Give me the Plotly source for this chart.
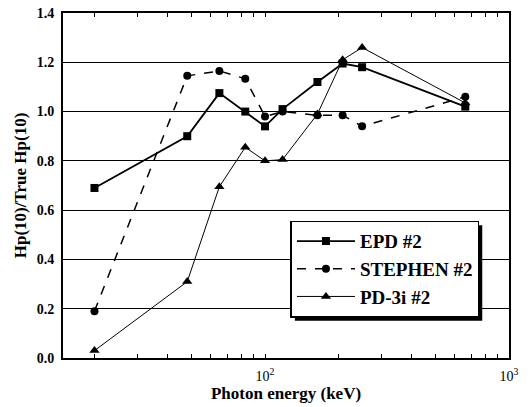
import plotly.graph_objects as go

energy = [20, 48, 65, 83, 100, 118, 164, 208, 250, 662]
epd = [0.69, 0.90, 1.075, 1.00, 0.94, 1.01, 1.12, 1.195, 1.18, 1.02]
stephen = [0.19, 1.145, 1.165, 1.133, 0.98, 1.00, 0.985, 0.985, 0.94, 1.06]
pd3i = [0.03, 0.31, 0.695, 0.855, 0.80, 0.805, 0.99, 1.21, 1.26, 1.035]

names = ["<b>EPD #2</b>", "<b>STEPHEN #2</b>", "<b>PD-3i #2</b>"]
ytick_vals = [0.0, 0.2, 0.4, 0.6, 0.8, 1.0, 1.2, 1.4]
xtick_vals = [20, 30, 40, 50, 60, 70, 80, 90, 100, 200, 300, 400, 500, 600, 700, 800, 900, 1000]
xtick_text = ["10<sup>2</sup>" if v == 100 else ("10<sup>3</sup>" if v == 1000 else "") for v in xtick_vals]

font_family = "Liberation Serif"

fig = go.Figure()
fig.add_trace(go.Scatter(x=energy, y=epd, name=names[0], mode="lines+markers",
                         line=dict(color="black", width=1.8),
                         marker=dict(symbol="square", size=8, color="black")))
fig.add_trace(go.Scatter(x=energy, y=stephen, name=names[1], mode="lines+markers",
                         line=dict(color="black", width=1.5, dash="dash"),
                         marker=dict(symbol="circle", size=8, color="black")))
fig.add_trace(go.Scatter(x=energy, y=pd3i, name=names[2], mode="lines+markers",
                         line=dict(color="black", width=1),
                         marker=dict(symbol="triangle-up", size=9, color="black")))

# legend drop shadow (decoration)
fig.add_shape(type="rect", xref="paper", yref="paper",
              x0=0.52, x1=0.94, y0=0.108, y1=0.385,
              fillcolor="black", line=dict(width=0), layer="above")

fig.update_layout(
    width=531, height=407,
    margin=dict(l=63, r=22, t=13, b=49),
    paper_bgcolor="white", plot_bgcolor="white",
    font=dict(family=font_family, color="black", size=13),
    showlegend=True,
    legend=dict(x=0.51, y=0.398, xanchor="left", yanchor="top",
                bgcolor="white", bordercolor="black", borderwidth=1.5,
                font=dict(family=font_family, size=19, color="black"),
                itemwidth=58, tracegroupgap=0),
)
fig.update_xaxes(type="log", range=[1.172, 3.0], automargin=False,
                 tickvals=xtick_vals, ticktext=xtick_text,
                 ticks="inside", ticklen=4, tickwidth=1.2, tickcolor="black",
                 showline=True, linecolor="black", linewidth=2, mirror="allticks",
                 showgrid=False, zeroline=False, ticklabelstandoff=4,
                 tickfont=dict(family=font_family, size=14, color="black"),
                 title=dict(text="<b>Photon energy (keV)</b>", standoff=4,
                            font=dict(family=font_family, size=17, color="black")))
fig.update_yaxes(range=[0, 1.4], tickvals=ytick_vals, automargin=False,
                 ticktext=["<b>%.1f</b>" % v for v in ytick_vals],
                 showline=True, linecolor="black", linewidth=2, mirror=True,
                 showgrid=True, gridcolor="black", gridwidth=1.3, zeroline=False,
                 ticks="", ticklabelstandoff=4,
                 tickfont=dict(family=font_family, size=14, color="black"),
                 title=dict(text="<b>Hp(10)/True Hp(10)</b>", standoff=6,
                            font=dict(family=font_family, size=17, color="black")))

fig.write_html("out.html")
